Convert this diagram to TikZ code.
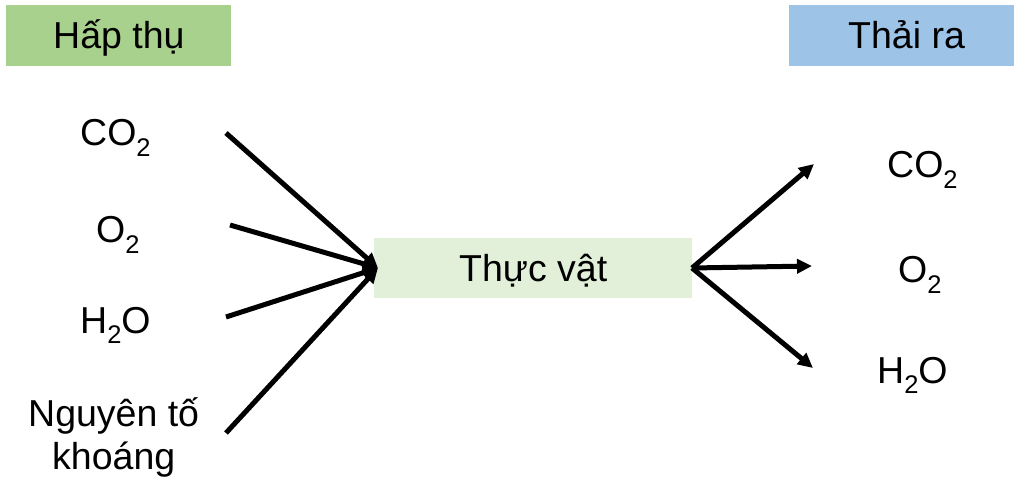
\documentclass[tikz,border=0pt]{standalone}
\usepackage{fontspec}
\setmainfont{Liberation Sans}
\usetikzlibrary{arrows.meta}
\definecolor{hdrgreen}{HTML}{A9D18E}
\definecolor{hdrblue}{HTML}{9DC3E6}
\definecolor{plantgreen}{HTML}{E2F0D9}
\newcommand\subtwo{\raisebox{-0.28em}{\fontsize{25.5}{25.5}\selectfont 2}}
\begin{document}
\begin{tikzpicture}[x=1pt,y=-1pt,
  lbl/.style={anchor=base west,inner sep=0pt,font=\fontsize{37.5}{44}\selectfont},
  flow/.style={line width=5pt,-{Triangle[length=15pt,width=14pt]}}]
\useasboundingbox (0,0) rectangle (1032,502);
\fill[white] (0,0) rectangle (1032,502);
% boxes
\node[fill=hdrgreen,minimum width=225pt,minimum height=61pt,inner sep=0pt,anchor=north west] (hbox) at (6,5) {};
\node[fill=hdrblue,minimum width=225pt,minimum height=61pt,inner sep=0pt,anchor=north west] (tbox) at (789,5) {};
\node[fill=plantgreen,minimum width=318pt,minimum height=60pt,inner sep=0pt,anchor=north west] (plant) at (374,238) {};
% titles
\node[lbl] (htxt) at (53,49) {Hấp thụ};
\node[lbl] (ttxt) at (848,49) {Thải ra};
\node[lbl] (ptxt) at (459,281) {Thực vật};
% left labels
\node[lbl] (lco2) at (80,146) {CO\subtwo};
\node[lbl] (lo2) at (96,243) {O\subtwo};
\node[lbl] (lh2o) at (80,333) {H\subtwo O};
\node[lbl] (lmin1) at (28,426) {Nguyên tố};
\node[lbl] (lmin2) at (52,469) {khoáng};
% right labels
\node[lbl] (rco2) at (887,178) {CO\subtwo};
\node[lbl] (ro2) at (898,283) {O\subtwo};
\node[lbl] (rh2o) at (877,383) {H\subtwo O};
% coordinates
\coordinate (in) at (378,268);
\coordinate (out) at (692,268);
\coordinate (s1) at (226,133);
\coordinate (s2) at (230,225);
\coordinate (s3) at (226,317);
\coordinate (s4) at (226,433);
\coordinate (e1) at (814,164);
\coordinate (e2) at (812,266);
\coordinate (e3) at (813,368);
% arrows
\draw[flow] (s1) -- (in);
\draw[flow] (s2) -- (in);
\draw[flow] (s3) -- (in);
\draw[flow] (s4) -- (in);
\draw[flow] (out) -- (e1);
\draw[flow] (out) -- (e2);
\draw[flow] (out) -- (e3);
\end{tikzpicture}
\end{document}
